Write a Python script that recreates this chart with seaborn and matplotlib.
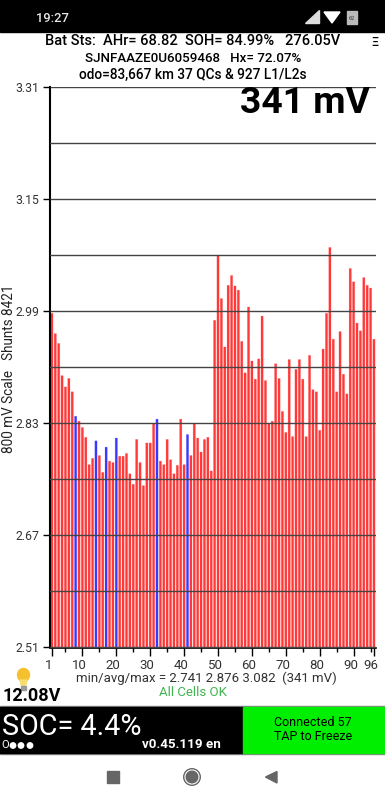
import numpy as np
import pandas as pd
import seaborn as sns
import matplotlib
matplotlib.use('Agg')
import matplotlib.pyplot as plt
from matplotlib.colors import to_rgba
from matplotlib.patches import Rectangle, Circle, Polygon, Ellipse
from matplotlib.transforms import ScaledTranslation

# cell voltages
cell_volts = [2.987, 2.958, 2.944, 2.898, 2.882, 2.894, 2.875, 2.840, 2.833, 2.824,
              2.810, 2.771, 2.780, 2.805, 2.784, 2.760, 2.796, 2.776, 2.774, 2.809,
              2.783, 2.783, 2.787, 2.758, 2.743, 2.807, 2.774, 2.741, 2.802, 2.802,
              2.830, 2.836, 2.776, 2.771, 2.807, 2.778, 2.758, 2.770, 2.836, 2.771,
              2.814, 2.784, 2.830, 2.809, 2.789, 2.807, 2.810, 2.762, 2.977, 3.070,
              3.008, 2.939, 3.027, 3.041, 3.026, 3.020, 2.947, 2.902, 2.996, 2.919,
              2.893, 2.922, 2.983, 2.891, 2.830, 2.833, 2.915, 2.894, 2.847, 2.817,
              2.921, 2.811, 2.907, 2.921, 2.893, 2.811, 2.927, 2.878, 2.875, 2.820,
              2.936, 2.987, 3.081, 2.950, 2.875, 2.961, 2.900, 2.872, 3.051, 3.032,
              2.973, 2.962, 3.038, 3.027, 3.023, 2.950]
shunted_cells = [8, 14, 17, 20, 32, 41]
y_labels = ['2.51', '2.67', '2.83', '2.99', '3.15', '3.31']
x_major = [1, 10, 20, 30, 40, 50, 60, 70, 80, 90, 96]
x_minor = [5, 15, 25, 35, 45, 55, 65, 75, 85, 95]

W, H = 385, 800
plt.rcParams['font.family'] = ['Roboto', 'DejaVu Sans']

df = pd.DataFrame({'cell': range(1, 97), 'volts': cell_volts})
df['state'] = ['shunt' if c in shunted_cells else 'normal' for c in df['cell']]

fig = plt.figure(figsize=(W / 100, H / 100), dpi=100, facecolor='white')

# main chart
ax = fig.add_axes([50 / W, 1 - 647.5 / H, 326 / W, 560.5 / H])
sns.barplot(data=df, x='cell', y='volts', hue='state', dodge=False, width=0.66,
            palette={'normal': '#ff3838', 'shunt': '#3838ff'}, legend=False,
            saturation=1, ax=ax)
# no pixel snapping and a faint edge, the gaps come out pink like the phone screen
for bar in ax.patches:
    bar.set_snap(False)
    bar.set_edgecolor(to_rgba(bar.get_facecolor(), 0.25))
    bar.set_linewidth(0.5)
ax.set_xlim(-0.56, 95.6)
ax.set_ylim(2.51, 3.31)
ax.set_yticks([float(v) for v in y_labels], y_labels, fontsize=8.8, color='#333333')
ax.set_yticks(np.arange(2.51, 3.311, 0.08), minor=True)
ax.set_xticks([c - 1 for c in x_major], x_major, fontsize=9.5, color='#333333')
ax.set_xticks([c - 1 for c in x_minor], minor=True)
ax.tick_params(axis='y', which='major', length=5, width=1, pad=3)
ax.tick_params(axis='y', which='minor', length=0)
ax.tick_params(axis='x', which='major', length=6, width=1, pad=2)
ax.tick_params(axis='x', which='minor', length=3, width=1)
# the app prints the x labels a little left of their ticks
for t in ax.get_xticklabels():
    t.set_transform(t.get_transform() + ScaledTranslation(-3 / 100, 0, fig.dpi_scale_trans))
ax.set_xlabel('')
ax.set_ylabel('')
ax.set_axisbelow(False)
ax.grid(axis='y', which='both', color='#444444', lw=1)
ax.grid(axis='x', which='both', visible=False)
for s in ['top', 'right']:
    ax.spines[s].set_visible(False)
ax.spines['left'].set_linewidth(1.5)
ax.spines['bottom'].set_linewidth(1.2)

# overlay in screen pixels for the app chrome
ov = fig.add_axes([0, 0, 1, 1], zorder=5)
ov.set_xlim(0, W)
ov.set_ylim(H, 0)
ov.axis('off')
ov.patch.set_alpha(0)


def label(x, y, s, size, ha='center', color='black', weight='normal', **kw):
    ov.text(x, y, s, fontsize=size, ha=ha, va='center', color=color, weight=weight, **kw)


# status bar
ov.add_patch(Rectangle((0, 0), W, 32, color='black'))
label(52, 18, '19:27', 9.3, color='#e8e8e8', weight='medium')
ov.add_patch(Polygon([[305, 23], [319, 23], [319, 10]], color='#dddddd'))
ov.add_patch(Polygon([[324, 12], [340, 12], [332, 23]], color='white'))
ov.add_patch(Rectangle((347, 11), 10, 13, color='#bbbbbb'))
label(352, 18, '62', 4, color='#333333')

# header text
label(193, 41, 'Bat Sts:  AHr= 68.82  SOH= 84.99%   276.05V', 10.5, weight='medium')
label(193, 58.5, 'SJNFAAZE0U6059468   Hx= 72.07%', 9.6, weight='medium')
label(193, 75, 'odo=83,667 km 37 QCs & 927 L1/L2s', 9.8, weight='medium')
label(375, 43, 'Ξ', 9, weight='medium')
label(370, 103, '341 mV', 26.8, ha='right', weight='bold')
label(9.5, 369, '800 mV Scale   Shunts 8421', 9.75, rotation=90, color='#222222')

# below the chart
label(206, 678, 'min/avg/max = 2.741 2.876 3.082  (341 mV)', 9.5, color='#333333')
label(193, 692, 'All Cells OK', 9.5, color='#3fb54f')
label(2, 696, '12.08V', 13, ha='left', weight='bold')

# light bulb
ov.add_patch(Ellipse((23.5, 675), 12, 13, color='#f5c02e'))
ov.add_patch(Polygon([[20, 680], [27, 680], [25.5, 686], [21.5, 686]], color='#f8dc70'))
ov.add_patch(Rectangle((21, 686), 5, 3.5, color='#999999'))

# bottom panel
ov.add_patch(Rectangle((0, 706), W, 48, color='#888888'))
ov.add_patch(Rectangle((0, 707), 243, 46, color='black'))
ov.add_patch(Rectangle((243, 707), 142, 46, color='#00ee00'))
label(2, 727, 'SOC= 4.4%', 20.7, ha='left', color='white')
label(1, 745, 'O', 8, ha='left', color='white')
for cx in [13, 21, 30]:
    ov.add_patch(Circle((cx, 745.5), 2.7, color='white'))
label(181, 745, 'v0.45.119 en', 9.6, color='white', weight='bold')
label(313, 722, 'Connected 57', 9)
label(313, 737, 'TAP to Freeze', 9)

# nav bar
ov.add_patch(Rectangle((107, 771), 11.5, 11.5, color='#666666'))
ov.add_patch(Circle((192, 777), 8.3, fc='none', ec='#666666', lw=1))
ov.add_patch(Circle((192, 777), 5.8, color='#666666'))
ov.add_patch(Polygon([[277, 771.5], [277, 783], [265.5, 777]], color='#666666'))

fig.savefig('out.png', dpi=100)
